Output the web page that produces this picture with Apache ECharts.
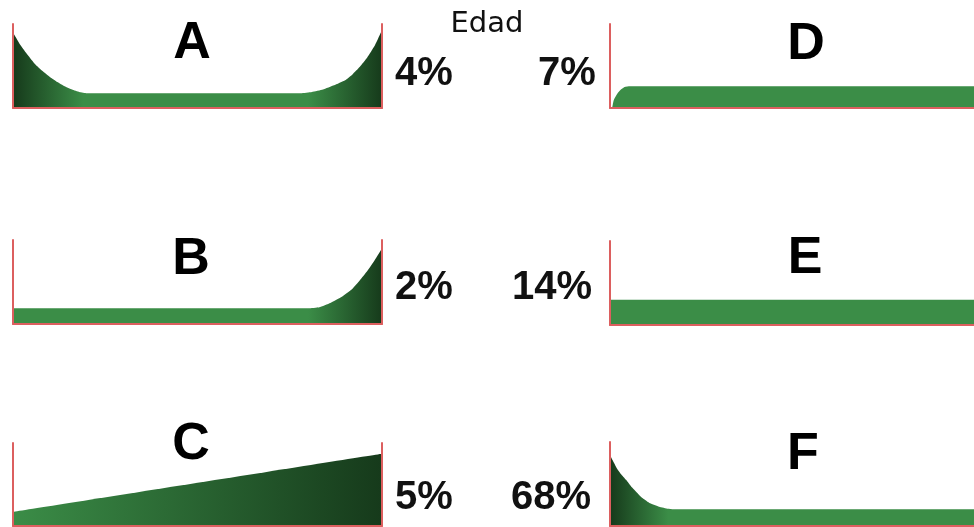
<!DOCTYPE html>
<html>
<head>
<meta charset="utf-8">
<script src="https://cdn.jsdelivr.net/npm/echarts@6/dist/echarts.min.js"></script>
<style>
html,body{margin:0;padding:0;background:#fff;}
#chart{width:974px;height:527px;}
</style>
</head>
<body>
<div id="chart"></div>
<script>
// Curve data: age (x, 0-100) vs relative failure rate (y, 0-100)
const curveNames = ['A', 'B', 'C', 'D', 'E', 'F'];
const shares = ['4%', '2%', '5%', '7%', '14%', '68%'];
const axisTitle = 'Edad';

const ageA = [0, 2, 4, 6, 8, 10, 12, 14, 16, 18, 20, 78, 81, 84, 87, 90, 92, 94, 96, 98, 100];
const rateA = [90, 75, 63, 52, 44, 37, 31, 26, 22, 19, 17.5, 17.5, 19, 22, 27, 33, 40, 49, 60, 74, 93];
const ageB = [0, 80, 83, 86, 89, 92, 94, 96, 98, 100];
const rateB = [18.7, 18.7, 20, 25, 32, 42, 52, 63, 76, 90];
const ageC = [0, 100];
const rateC = [17, 87];
const ageD = [0.6, 1, 2, 3, 4, 5.5, 100];
const rateD = [0, 9, 17, 22, 25, 26, 26];
const ageE = [0, 100];
const rateE = [30, 30];
const ageF = [0, 1, 2, 3, 4.4, 6, 8, 9, 11, 13.5, 16, 17, 100];
const rateF = [84.5, 76, 68, 62, 55, 46, 37, 33, 27, 23, 20.5, 20, 20];

const ages = [ageA, ageB, ageC, ageD, ageE, ageF];
const rates = [rateA, rateB, rateC, rateD, rateE, rateF];

const GREEN = '#3b8d47', DARK = '#163a1b', RED = '#dc5f5f';
function grad(stops) {
  return new echarts.graphic.LinearGradient(0, 0, 1, 0, stops.map(s => ({offset: s[0], color: s[1]})));
}
const fills = [
  grad([[0, DARK], [0.19, GREEN], [0.8, GREEN], [1, DARK]]),
  grad([[0, GREEN], [0.8, GREEN], [1, DARK]]),
  grad([[0, GREEN], [1, DARK]]),
  GREEN,
  GREEN,
  grad([[0, DARK], [0.16, GREEN], [1, GREEN]])
];

const grids = [
  {left: 13, top: 24, width: 369, height: 84},
  {left: 13, top: 240, width: 369, height: 84},
  {left: 13, top: 443, width: 369, height: 83},
  {left: 610, top: 24, width: 364, height: 84},
  {left: 610, top: 241, width: 364, height: 84},
  {left: 610, top: 442, width: 364, height: 84}
];

const axisLine = {show: true, lineStyle: {color: RED, width: 2}};
const xAxes = [], yAxes = [], series = [];
grids.forEach((g, i) => {
  xAxes.push({type: 'value', gridIndex: i, min: 0, max: 100, z: 10,
    axisLine: axisLine, axisTick: {show: false}, axisLabel: {show: false}, splitLine: {show: false}});
  yAxes.push({type: 'value', gridIndex: i, min: 0, max: 100, z: 10,
    axisLine: axisLine, axisTick: {show: false}, axisLabel: {show: false}, splitLine: {show: false}});
  series.push({
    type: 'line', xAxisIndex: i, yAxisIndex: yAxes.length - 1,
    data: ages[i].map((a, k) => [a, rates[i][k]]),
    showSymbol: false, symbol: 'none', silent: true,
    smooth: 0.15,
    lineStyle: {width: 0, color: GREEN},
    areaStyle: {color: fills[i], opacity: 1}
  });
  if (i < 3) {
    yAxes.push({type: 'value', gridIndex: i, position: 'right', min: 0, max: 100, z: 10,
      axisLine: axisLine, axisTick: {show: false}, axisLabel: {show: false}, splitLine: {show: false}});
  }
});

const letterPos = [[192, 44], [191, 260], [191, 445], [806, 45], [805, 259], [803, 455]];
const sharePos = [[424, 74], [424, 288], [424, 498], [567, 74], [552, 288], [551, 498]];
const graphics = [{
  type: 'text', x: 487, y: 24, z: 20,
  style: {text: axisTitle, font: '29px "DejaVu Sans"', fill: '#111', textAlign: 'center', textVerticalAlign: 'middle'}
}];
curveNames.forEach((n, i) => {
  graphics.push({type: 'text', x: letterPos[i][0], y: letterPos[i][1], z: 20,
    style: {text: n, font: 'bold 52px "Liberation Sans"', fill: '#000', textAlign: 'center', textVerticalAlign: 'middle'}});
  graphics.push({type: 'text', x: sharePos[i][0], y: sharePos[i][1], z: 20,
    style: {text: shares[i], font: 'bold 40px "Liberation Sans"', fill: '#111', textAlign: 'center', textVerticalAlign: 'middle'}});
});

const chart = echarts.init(document.getElementById('chart'));
chart.setOption({
  animation: false,
  backgroundColor: '#fff',
  grid: grids,
  xAxis: xAxes,
  yAxis: yAxes,
  series: series,
  graphic: graphics
});
</script>
</body>
</html>
